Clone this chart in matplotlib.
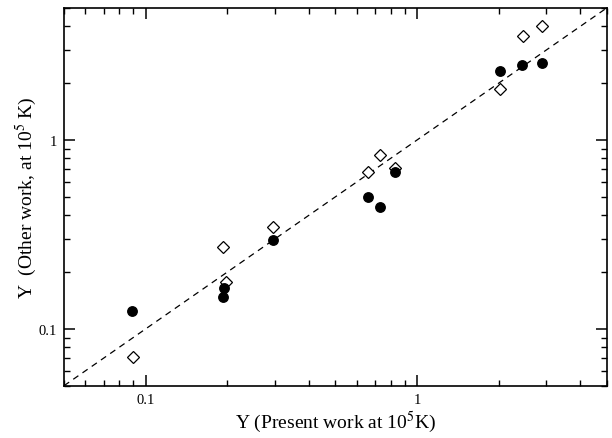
import numpy as np
import matplotlib
matplotlib.use("Agg")
import matplotlib.pyplot as plt
from matplotlib.ticker import LogLocator, FixedFormatter, FixedLocator, NullFormatter

plt.rcParams['font.family'] = ['Liberation Serif', 'DejaVu Serif']
plt.rcParams['mathtext.fontset'] = 'stix'

# filled circles: present work vs other work (set 1)
x_filled = [0.089, 0.192, 0.195, 0.294, 0.66, 0.729, 0.833, 2.02, 2.44, 2.88]
y_filled = [0.125, 0.148, 0.165, 0.294, 0.50, 0.442, 0.678, 2.33, 2.49, 2.56]

# open diamonds: present work vs other work (set 2)
x_open = [0.090, 0.192, 0.197, 0.295, 0.66, 0.729, 0.833, 2.02, 2.45, 2.88]
y_open = [0.0713, 0.271, 0.176, 0.346, 0.678, 0.832, 0.707, 1.86, 3.57, 4.0]

# y = x reference line
line_x = [0.05, 5]

fig = plt.figure(figsize=(6.12, 4.39), dpi=100)
ax = fig.add_axes([0.1046, 0.1191, 0.8867, 0.8604])

ax.plot(line_x, line_x, color='black', linestyle=(0, (5, 4)), linewidth=0.9)
ax.plot(x_open, y_open, linestyle='none', marker='D', markersize=5.8,
        markerfacecolor='white', markeredgecolor='black', markeredgewidth=0.9)
ax.plot(x_filled, y_filled, linestyle='none', marker='o', markersize=6.8,
        markerfacecolor='black', markeredgecolor='black')

ax.set_xscale('log')
ax.set_yscale('log')
ax.set_xlim(0.05, 5)
ax.set_ylim(0.05, 5)

for a in (ax.xaxis, ax.yaxis):
    a.set_major_locator(FixedLocator([0.1, 1]))
    a.set_major_formatter(FixedFormatter(['0.1', '1']))
    a.set_minor_locator(LogLocator(base=10, subs=np.arange(2, 10)))
    a.set_minor_formatter(NullFormatter())

ax.tick_params(which='both', direction='in', top=True, right=True, labelsize=10.5)
ax.tick_params(which='major', length=8, width=1.1, pad=5)
ax.tick_params(which='minor', length=4.5, width=1.0)
for s in ax.spines.values():
    s.set_linewidth(1.2)

ax.set_xlabel('Y (Present work at 10$^5$K)', fontsize=14, labelpad=2)
ax.set_ylabel('Y  (Other work, at 10$^5$ K)', fontsize=14, labelpad=0)

fig.savefig('out.png', dpi=100)
